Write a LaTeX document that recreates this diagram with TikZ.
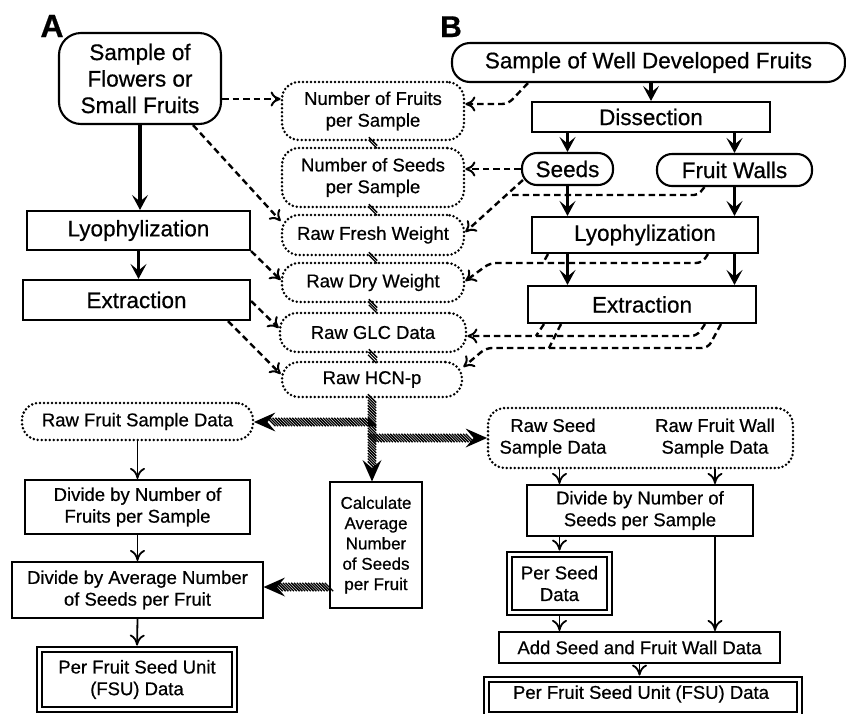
\documentclass[tikz,border=0pt]{standalone}
\usepackage{fontspec}
\setmainfont{Liberation Sans}[FakeBold=0.6]
\usetikzlibrary{arrows.meta,decorations.markings,calc}

\newcommand\bigtxt{\fontsize{22.5}{26.5}\selectfont}
\newcommand\midtxt{\fontsize{18.5}{21.7}\selectfont}
\newcommand\smalltxt{\fontsize{17}{20.3}\selectfont}

\tikzset{
  every node/.style={inner sep=0pt, align=center},
  sz/.style 2 args={minimum width=#1pt, minimum height=#2pt},
  box/.style={draw, line width=2.1pt, rectangle},
  pill/.style={draw, line width=2.1pt, rounded corners=#1},
  dotbox/.style={draw, line width=2.8pt, dash pattern=on 0pt off 4pt, line cap=round, rounded corners=17pt},
  dblbox/.style={draw, double, double distance=3.2pt, line width=1.8pt},
  thickarr/.style={line width=3.4pt, -{Stealth[length=15pt,width=16pt,inset=6.5pt]}},
  thinarr/.style={line width=1.8pt, -{Computer Modern Rightarrow[length=11pt,width=15pt,line width=1.8pt]}},
  dshline/.style={line width=2.4pt, dash pattern=on 6.5pt off 4pt, rounded corners=6pt},
  dsh/.style={dshline, -{Computer Modern Rightarrow[length=10pt,width=15pt,line width=2pt]}},
  stripe/.code={\pgftransformresetnontranslations
    \draw[line width=1.3pt] (-4.2pt,4.2pt) -- (4.2pt,-4.2pt);},
  hatch/.style={decorate, decoration={markings,
    mark=between positions 0 and 1 step 2.8pt with {\path[stripe];}}},
  hatcharr/.style={decorate, decoration={markings,
    mark=between positions 0 and -14pt step 2.8pt with {\path[stripe];},
    mark=at position 1 with {\fill (0.5pt,0) -- (-21pt,9.5pt) -- (-13pt,0) -- (-21pt,-9.5pt) -- cycle;}}},
}

\begin{document}
\begin{tikzpicture}[x=1pt, y=-1pt]
\useasboundingbox (0,0) rectangle (846,713);

% panel letters
\node[anchor=base] (labA) at (52,37) {\fontsize{32}{32}\selectfont\bfseries A};
\node[anchor=base] (labB) at (451,37) {\fontsize{30}{30}\selectfont\bfseries B};

% ---------- panel A, processing column ----------
\node[pill=22pt, sz={162}{91}, font=\bigtxt] (sA) at (140,78.5) {Sample of\\Flowers or\\Small Fruits};
\node[box, sz={223}{39}, font=\bigtxt] (lyoA) at (138.5,230.5) {Lyophylization};
\node[box, sz={227}{40}, font=\bigtxt] (extA) at (136.5,300) {Extraction};

% ---------- raw data stack ----------
\node[dotbox, sz={182}{58}, font=\midtxt] (nF) at (373,111) {Number of Fruits\\per Sample};
\node[dotbox, sz={182}{59}, font=\midtxt] (nS) at (373,177.5) {Number of Seeds\\per Sample};
\node[dotbox, sz={182}{40}, font=\midtxt] (rFW) at (373,235) {Raw Fresh Weight};
\node[dotbox, sz={182}{39}, font=\midtxt] (rDW) at (373,282.5) {Raw Dry Weight};
\node[dotbox, sz={186}{39}, font=\midtxt] (rGLC) at (373,332.5) {Raw GLC Data};
\node[dotbox, sz={180}{35}, font=\midtxt] (rHCN) at (372,379.5) {Raw HCN-p};

% ---------- panel B, processing column ----------
\node[pill=18pt, sz={393}{39}, font=\bigtxt] (sB) at (648.5,62.5) {Sample of Well Developed Fruits};
\node[box, sz={238}{30}, font=\bigtxt] (dis) at (651,117) {Dissection};
\node[pill=15pt, sz={91}{32}, font=\bigtxt] (seeds) at (567.5,169) {Seeds};
\node[pill=15pt, sz={155}{32}, font=\bigtxt] (fw) at (734.5,170) {Fruit Walls};
\node[box, sz={226}{36}, font=\bigtxt] (lyoB) at (645,235) {Lyophylization};
\node[box, sz={228}{37}, font=\bigtxt] (extB) at (642,304.5) {Extraction};

% ---------- panel A, calculation column ----------
\node[dotbox, sz={231}{37}, font=\midtxt] (rFSD) at (137.5,421.5) {Raw Fruit Sample Data};
\node[box, sz={225}{54}, font=\midtxt] (div1) at (137.5,507) {Divide by Number of\\Fruits per Sample};
\node[box, sz={251}{56}, font=\midtxt] (div2) at (137.5,590) {Divide by Average Number\\of Seeds per Fruit};
\node[dblbox, sz={195}{60}, font=\midtxt] (fsuA) at (137,679.5) {Per Fruit Seed Unit\\(FSU) Data};
\node[box, sz={92}{126}, font=\smalltxt] (calc) at (376,545) {Calculate\\Average\\Number\\of Seeds\\per Fruit};

% ---------- panel B, calculation column ----------
\node[dotbox, sz={305}{60}] (rSSD) at (640.5,438) {};
\node[font=\midtxt] (rSSDa) at (553,438) {Raw Seed\\Sample Data};
\node[font=\midtxt] (rSSDb) at (715,438) {Raw Fruit Wall\\Sample Data};
\node[box, sz={226}{51}, font=\midtxt] (div3) at (640,510.5) {Divide by Number of\\Seeds per Sample};
\node[dblbox, sz={100}{58}, font=\midtxt] (psd) at (559.5,583.5) {Per Seed\\Data};
\node[box, sz={281}{31}, font=\midtxt] (add) at (639.5,647.5) {Add Seed and Fruit Wall Data};
\node[dblbox, sz={313}{35}] (fsuB) at (643,697) {};
\node[font=\midtxt] (fsuBt) at (641,694) {Per Fruit Seed Unit (FSU) Data};

% ---------- solid flow arrows ----------
\draw[thickarr] (sA.south) -- (sA.south |- lyoA.north);
\draw[thickarr] (lyoA.south) -- (extA.north -| lyoA.south);
\draw[thickarr] (dis.north |- sB.south) -- (dis.north);
\draw[thickarr] (dis.south -| seeds.north) -- (seeds.north);
\draw[thickarr] (dis.south -| fw.north) -- (fw.north);
\draw[thickarr] (seeds.south) -- (seeds.south |- lyoB.north);
\draw[thickarr] (fw.south) -- (fw.south |- lyoB.north);
\draw[thickarr] (lyoB.south -| seeds.south) -- (extB.north -| seeds.south);
\draw[thickarr] (lyoB.south -| fw.south) -- (extB.north -| fw.south);

\draw[thinarr] (rFSD.south) -- (div1.north);
\draw[thinarr] (div1.south) -- (div2.north);
\draw[thinarr, shorten >=3pt] (div2.south) -- (fsuA.north);
\draw[thinarr] (rSSD.south -| psd.north) -- (div3.north -| psd.north);
\draw[thinarr] (rSSD.south -| rSSDb) -- (div3.north -| rSSDb);
\draw[thinarr, shorten >=3pt] (div3.south -| psd.north) -- (psd.north);
\draw[thinarr] (div3.south -| rSSDb) -- (add.north -| rSSDb);
\draw[thinarr, shorten <=3pt] (psd.south) -- (add.north -| psd.south);
\draw[thinarr, shorten >=3pt] (add.south) -- (add.south |- fsuB.north);

% ---------- dashed data arrows, panel A ----------
\draw[dsh] (sA.east |- 0,99) -- (nF.west |- 0,99);
\draw[dsh] (sA.south -| 193,0) -- (rFW.west |- 0,221);
\draw[dsh] (lyoA.south east) -- (rDW.west |- 0,280);
\draw[dsh] (extA.east |- 0,301) -- (rGLC.west |- 0,328);
\draw[dsh] (extA.south -| 228,0) -- (rHCN.west |- 0,374);

% ---------- dashed data arrows, panel B ----------
\draw[dsh] (sB.south -| 528,0) -- (508,104) -- (nF.east |- 0,104);
\draw[dsh] (seeds.west) -- (nS.east |- seeds.west);
\draw[dsh] ($(seeds.west)+(2,11)$) -- (rFW.east |- 0,232);
\draw[dshline, rounded corners=4pt] ($(fw.south)+(-30,0)$) -- (698,195) -- (509,195);
\draw[dsh] ($(lyoB.south)+(63,0)$) -- (702,263) -- (490,263) -- (rDW.east |- 0,281);
\draw[dshline] (lyoB.south -| 548,0) -- (543,263);
\draw[dsh] (extB.south -| 705,0) -- (697,336) -- (rGLC.east |- 0,336);
\draw[dshline] (extB.south -| 544,0) -- (536,336);
\draw[dsh] (extB.south -| 721,0) -- (708,348) -- (486,348) -- (rHCN.east |- 0,367);
\draw[dshline] (extB.south -| 561,0) -- (549,348);

% ---------- hatched links and transfers ----------
\path[hatch] (nF.south) -- (nS.north);
\path[hatch] (nS.south) -- (rFW.north);
\path[hatch] (rFW.south) -- (rDW.north);
\path[hatch] (rDW.south) -- (rGLC.north);
\path[hatch] (rGLC.south) -- (rHCN.north);

\coordinate (hubL) at (372,422);
\coordinate (hubR) at (372,438);
\path[hatcharr] (rHCN.south -| hubL) -- (calc.north -| hubL);
\path[hatcharr] (hubL) -- (rFSD.east |- hubL);
\path[hatcharr] (hubR) -- (rSSD.west);
\path[hatcharr] (calc.west |- 0,587) -- (div2.east |- 0,587);
\end{tikzpicture}
\end{document}
